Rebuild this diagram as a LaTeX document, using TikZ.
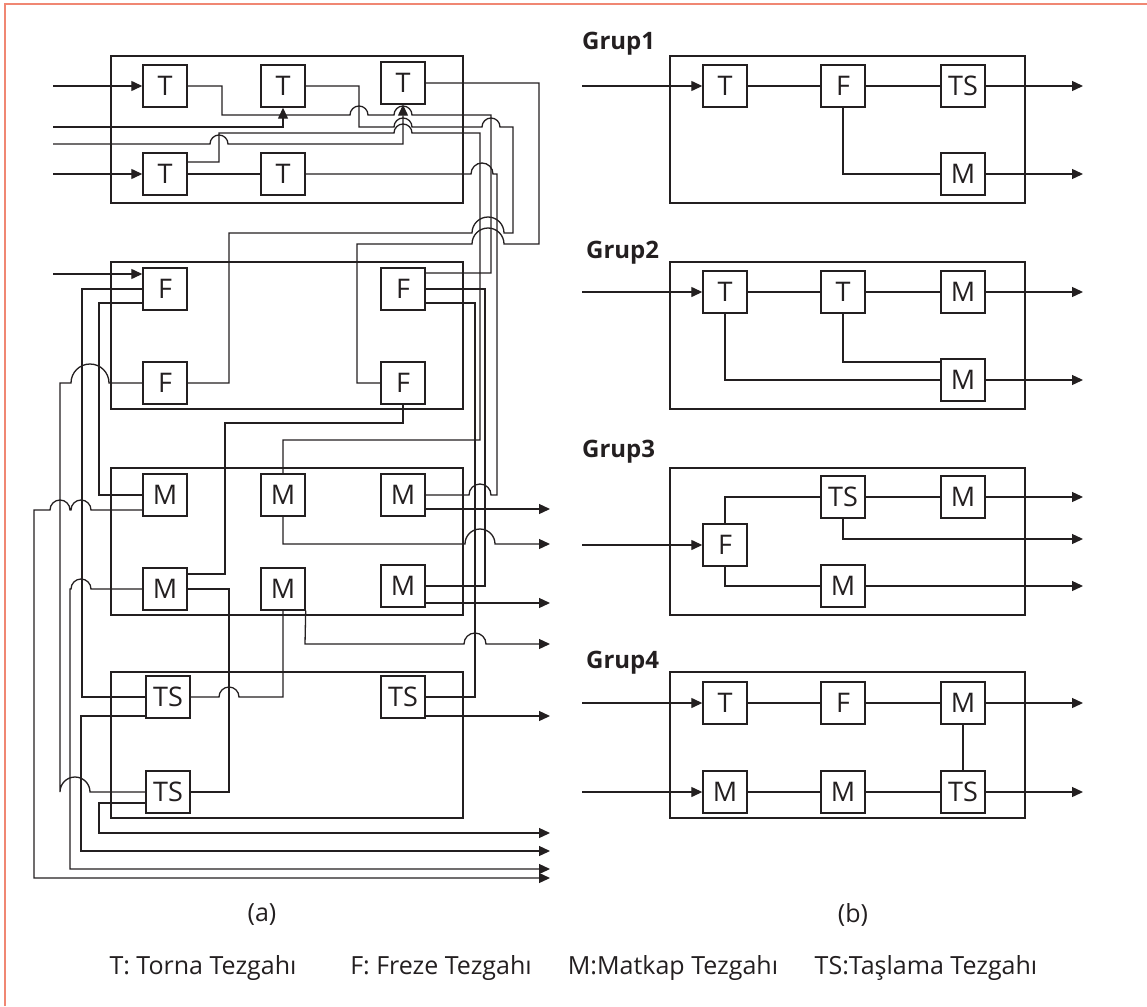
\documentclass[tikz,border=0pt]{standalone}
\usepackage{fontspec}
\setmainfont{Open Sans}
\usetikzlibrary{arrows.meta, calc}
\definecolor{framecol}{RGB}{240,135,115}
\definecolor{ink}{RGB}{35,31,32}

\begin{document}
\begin{tikzpicture}[x=1pt, y=-1pt, ink,
  mach/.style={draw, fill=white, line width=1.4pt, minimum width=44pt,
               minimum height=42pt, inner sep=0pt, font=\fontsize{27}{27}\selectfont},
  grp/.style={draw, line width=1.4pt},
  wire/.style={line width=1.3pt},
  arr/.style={wire, -{Triangle[length=11pt,width=10pt]}},
  glabel/.style={anchor=base west, inner sep=0pt, font=\fontsize{24}{24}\selectfont\bfseries},
  txt/.style={inner sep=0pt, font=\fontsize{25}{25}\selectfont}]
  \useasboundingbox (0,0) rectangle (1147,1006);
  \draw[framecol, line width=2.5pt] (5,1006) -- (5,4) -- (1147,4);

  % group boxes, (a) and (b)
  \foreach \ya/\yb in {56/203, 262/409, 468/615, 672/818}{
    \draw[grp] (111,\ya) rectangle (463,\yb);
    \draw[grp] (670,\ya) rectangle (1025,\yb);
  }

  % ---- (a) machines
  \node[mach] (ta1) at (165,86) {T};
  \node[mach] (ta2) at (283,86) {T};
  \node[mach] (ta3) at (403,83) {T};
  \node[mach] (ta4) at (165,174) {T};
  \node[mach] (ta5) at (283,174) {T};
  \node[mach] (fa1) at (165,289) {F};
  \node[mach] (fa2) at (165,383) {F};
  \node[mach] (fa3) at (403,289) {F};
  \node[mach] (fa4) at (403,383) {F};
  \node[mach] (ma1) at (165,495) {M};
  \node[mach] (ma2) at (283,495) {M};
  \node[mach] (ma3) at (403,495) {M};
  \node[mach] (ma4) at (165,589) {M};
  \node[mach] (ma5) at (283,589) {M};
  \node[mach] (ma6) at (403,586) {M};
  \node[mach] (sa1) at (168,697) {TS};
  \node[mach] (sa2) at (168,792) {TS};
  \node[mach] (sa3) at (403,697) {TS};

  % inputs
  \draw[arr] (53,86) -- (ta1.west);
  \draw[arr] (53,127) -| (ta2.south);
  \draw[arr] (53,144) -- (210,144) arc[start angle=180,end angle=0,radius=9pt]
    -- (403,144) -- (ta3.south);
  \draw[arr] (53,174) -- (ta4.west);
  \draw[arr] (53,274) -- (fa1.west |- 0,274);

  % lathe group
  \draw[wire] (ta4) -- (ta5);
  \draw[wire] (ta1.east) -- (222,86) -- (222,115) -- (350,115)
    arc[start angle=180,end angle=0,radius=9pt] -- (394,115)
    arc[start angle=180,end angle=0,radius=9pt] -- (491,115) |- (fa3.east |- 0,273);
  \draw[wire] (ta2.east) -- (359,86) -- (359,127) -- (394,127)
    arc[start angle=180,end angle=0,radius=9pt] -- (482,127)
    arc[start angle=180,end angle=0,radius=9pt] -- (513,127) -- (513,233) -- (504,233)
    arc[start angle=0,end angle=180,radius=16pt] -- (229,233) |- (fa2.east);
  \draw[wire] (ta4.east |- 0,162) -- (219,162) -- (219,133) -- (394,133)
    arc[start angle=180,end angle=0,radius=9pt] -- (480,133) -- (480,440) -| (ma2.north);
  \draw[wire] (ta5.east) -- (471,174) arc[start angle=180,end angle=0,radius=11pt]
    -- (497,174) -- (497,495) -- (491,495)
    arc[start angle=0,end angle=180,radius=11pt] -- (ma3.east);
  \draw[wire] (ta3.east) -- (539,83) -- (539,244) -- (504,244)
    arc[start angle=0,end angle=180,radius=16pt] -- (357,244) |- (fa4.west);

  % milling group
  \draw[wire] (fa3.east) -- (485,289) |- (ma6.east);
  \draw[wire] (fa3.east |- 0,303) -- (475,303) |- (sa3.east);
  \draw[wire] (fa4.south) |- (225,423) |- (ma4.east |- 0,574);
  \draw[wire] (fa1.west) -- (82,289) |- (sa1.west);
  \draw[wire] (fa1.west |- 0,303) -- (99,303) |- (ma1.west);
  \draw[wire] (fa2.west) -- (109,383) arc[start angle=0,end angle=180,radius=19pt]
    -- (60,383) -- (60,792) arc[start angle=180,end angle=0,radius=15pt] -- (sa2.west);

  % drilling group
  \draw[arr] (ma1.west |- 0,510) -- (91,510) arc[start angle=0,end angle=180,radius=10pt]
    -- (70,510) arc[start angle=0,end angle=180,radius=10pt] -- (34,510) -- (34,878) -- (550,878);
  \draw[arr] (ma4.west) -- (91,589) arc[start angle=0,end angle=180,radius=10pt]
    -- (70,589) -- (70,869) -- (550,869);
  \draw[wire] (ma4.east) -- (229,589) |- (sa2.east);
  \draw[wire] (ma5.south) |- (239,697) arc[start angle=0,end angle=180,radius=10pt] -- (sa1.east);
  \draw[arr] (ma5.south east) -- (305,644) -- (464,644)
    arc[start angle=180,end angle=0,radius=11pt] -- (550,644);
  \draw[arr] (ma2.south) |- (465,544) arc[start angle=180,end angle=0,radius=15pt] -- (550,544);
  \draw[arr] (ma3.east |- 0,509) -- (550,509);
  \draw[arr] (ma6.east |- 0,603) -- (550,603);

  % grinding group
  \draw[arr] (sa3.east |- 0,716) -- (550,716);
  \draw[arr] (sa1.west |- 0,716) -- (81,716) -- (81,851) -- (550,851);
  \draw[arr] (sa2.west |- 0,803) -- (99,803) -- (99,833) -- (550,833);

  % ---- (b) cells
  \node[glabel] (g1) at (582,50) {Grup1};
  \node[glabel] (g2) at (586,258) {Grup2};
  \node[glabel] (g3) at (582,457) {Grup3};
  \node[glabel] (g4) at (586,668) {Grup4};

  \node[mach] (b1t) at (725,86) {T};
  \node[mach] (b1f) at (843,86) {F};
  \node[mach] (b1s) at (963,86) {TS};
  \node[mach] (b1m) at (963,174) {M};
  \draw[wire] (b1t) -- (b1f) -- (b1s);
  \draw[wire] (b1f.south) |- (b1m.west);

  \node[mach] (b2t1) at (725,292) {T};
  \node[mach] (b2t2) at (843,292) {T};
  \node[mach] (b2m1) at (963,292) {M};
  \node[mach] (b2m2) at (963,380) {M};
  \draw[wire] (b2t1) -- (b2t2) -- (b2m1);
  \draw[wire] (b2t1.south) |- (b2m2.west);
  \draw[wire] (b2t2.south) |- (b2m2.west |- 0,362);

  \node[mach] (b3f) at (725,545) {F};
  \node[mach] (b3s) at (843,497) {TS};
  \node[mach] (b3m1) at (963,497) {M};
  \node[mach] (b3m2) at (843,586) {M};
  \draw[wire] (b3f.north) |- (b3s.west);
  \draw[wire] (b3s) -- (b3m1);
  \draw[wire] (b3f.south) |- (b3m2.west);
  \draw[arr] (b3s.south) |- (1083,539);

  \node[mach] (b4t) at (725,703) {T};
  \node[mach] (b4f) at (843,703) {F};
  \node[mach] (b4m1) at (963,703) {M};
  \node[mach] (b4m2) at (725,792) {M};
  \node[mach] (b4m3) at (843,792) {M};
  \node[mach] (b4s) at (963,792) {TS};
  \draw[wire] (b4t) -- (b4f) -- (b4m1);
  \draw[wire] (b4m2) -- (b4m3) -- (b4s);
  \draw[wire] (b4m1) -- (b4s);

  % cell inputs and outputs
  \foreach \n in {b1t, b2t1, b3f, b4t, b4m2}
    \draw[arr] (\n.west -| 582,0) -- (\n.west);
  \foreach \n in {b1s, b1m, b2m1, b2m2, b3m1, b3m2, b4m1, b4s}
    \draw[arr] (\n.east) -- (\n.east -| 1083,0);

  % captions
  \node[txt] (capa) at (262,915) {(a)};
  \node[txt] (capb) at (853,915) {(b)};
  \node[txt] (leg1) at (203,968) {T: Torna Tezgahı};
  \node[txt] (leg2) at (441,968) {F: Freze Tezgahı};
  \node[txt] (leg3) at (673,968) {M:Matkap Tezgahı};
  \node[txt] (leg4) at (926,968) {TS:Taşlama Tezgahı};
\end{tikzpicture}
\end{document}
